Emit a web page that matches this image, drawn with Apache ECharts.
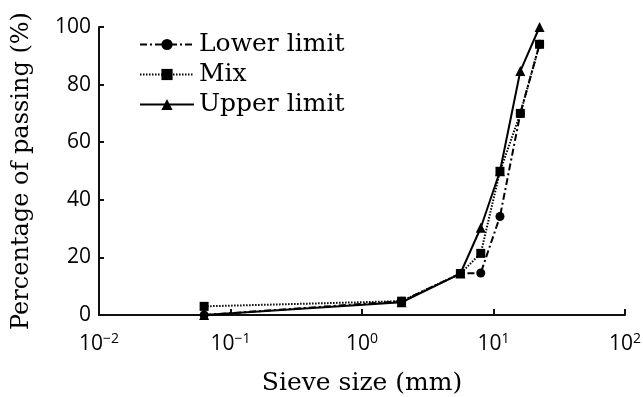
<!DOCTYPE html>
<html>
<head>
<meta charset="utf-8">
<script src="https://cdn.jsdelivr.net/npm/echarts@6/dist/echarts.min.js"></script>
<style>
  html, body { margin: 0; padding: 0; background: #fff; }
  #main { width: 643px; height: 397px; }
</style>
</head>
<body>
<div id="main"></div>
<script>
// sieve sizes (mm) and percentage passing
const sieveSizes = [0.063, 2, 5.6, 8, 11.2, 16, 22.4];
const lowerLimit = [0, 4.8, 14.4, 14.6, 34.2, 70, 94];
const mix = [3, 4.8, 14.4, 21.4, 49.9, 70, 94];
const upperLimit = [0, 4.4, 14.4, 30.3, 49.9, 84.7, 100];
const yTicks = [0, 20, 40, 60, 80, 100];
const xExponents = { 0.01: "−2", 0.1: "−1", 1: "0", 10: "1", 100: "2" };

const serif = "DejaVu Serif";
const sans = "Open Sans";
const pairs = (ys) => sieveSizes.map((x, i) => [x, ys[i]]);

const chart = echarts.init(document.getElementById("main"));

const lineSeries = (name, data, symbol, size, lineType) => ({
  name,
  type: "line",
  data: pairs(data),
  symbol,
  symbolSize: size,
  color: "#000",
  lineStyle: { color: "#000", width: 2, type: lineType },
  itemStyle: { color: "#000" },
  animation: false,
});

const options = {
  backgroundColor: "#fff",
  textStyle: { fontFamily: serif, color: "#000" },
  grid: { left: 99, right: 18, top: 27, bottom: 82, outerBoundsMode: "none" },
  legend: {
    left: 134,
    top: 27,
    orient: "vertical",
    itemWidth: 54,
    itemHeight: 14,
    itemGap: 5,
    textStyle: { fontFamily: serif, fontSize: 25, lineHeight: 25, color: "#000" },
    data: ["Lower limit", "Mix", "Upper limit"],
  },
  xAxis: {
    type: "log",
    logBase: 10,
    min: 0.01,
    max: 100,
    name: "Sieve size (mm)",
    nameLocation: "middle",
    nameGap: 56,
    nameTextStyle: { fontFamily: serif, fontSize: 25, color: "#000" },
    axisLine: { lineStyle: { color: "#111", width: 2 } },
    axisTick: { inside: true, length: 6, lineStyle: { color: "#111", width: 2 } },
    minorTick: { show: false },
    splitLine: { show: false },
    axisLabel: {
      margin: 17,
      fontFamily: sans,
      fontSize: 21,
      color: "#000",
      formatter(value) {
        const e = xExponents[value] ?? "";
        return "{b|10}{s|" + e + "}";
      },
      rich: {
        b: { fontFamily: sans, fontSize: 21, lineHeight: 24, color: "#000" },
        s: { fontFamily: sans, fontSize: 14, lineHeight: 14, color: "#000", verticalAlign: "top" },
      },
    },
  },
  yAxis: {
    type: "value",
    min: 0,
    max: 100,
    interval: 20,
    name: "Percentage of passing (%)",
    nameLocation: "middle",
    nameGap: 65,
    nameTextStyle: { fontFamily: serif, fontSize: 24, color: "#000" },
    axisLine: { show: true, lineStyle: { color: "#111", width: 2 } },
    axisTick: { show: true, inside: true, length: 5, lineStyle: { color: "#111", width: 2 } },
    splitLine: { show: false },
    axisLabel: {
      margin: 8,
      fontFamily: sans,
      fontSize: 21,
      color: "#000",
      formatter: (v) => (yTicks.includes(v) ? String(v) : ""),
    },
  },
  series: [
    lineSeries("Lower limit", lowerLimit, "circle", 9, [7, 3, 2, 3]),
    lineSeries("Mix", mix, "rect", 9, [1.5, 1.5]),
    lineSeries("Upper limit", upperLimit, "triangle", 10, "solid"),
  ],
};

chart.setOption(options);
</script>
</body>
</html>
